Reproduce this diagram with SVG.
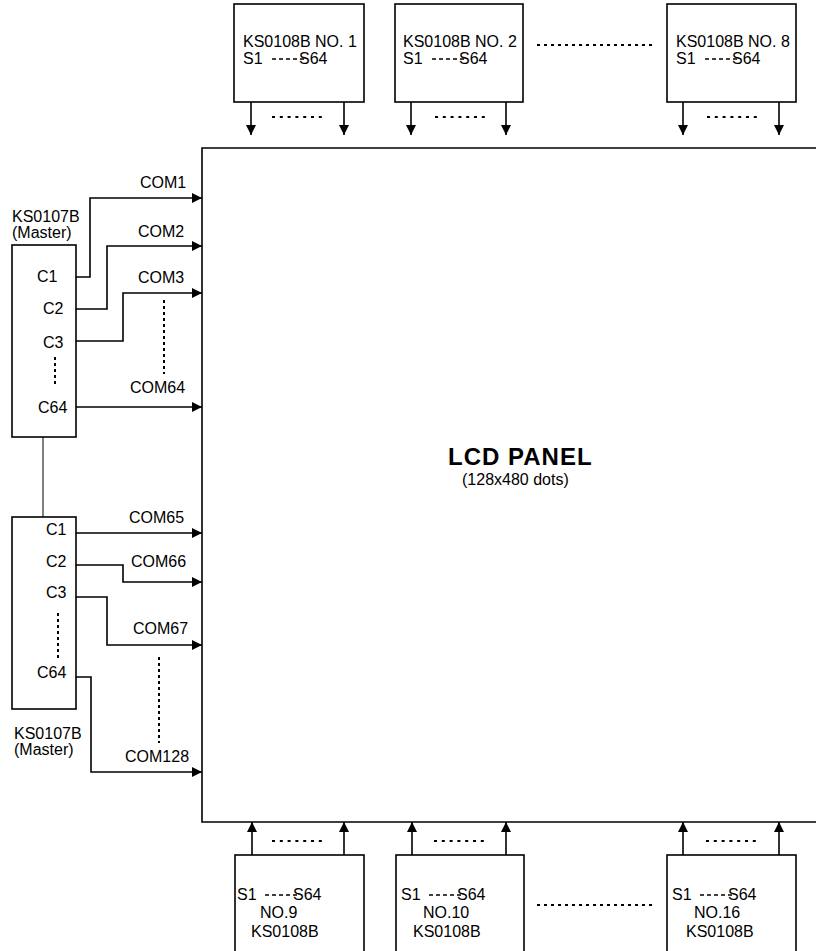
<svg xmlns="http://www.w3.org/2000/svg" width="816" height="951" viewBox="0 0 816 951">
<style>
text{font-family:"Liberation Sans",Arial,sans-serif;font-size:16px;fill:#000}
.box{fill:#fff;stroke:#000;stroke-width:1.6}
.w{fill:none;stroke:#000;stroke-width:1.6}
.thin{fill:none;stroke:#000;stroke-width:1}
.dot{fill:none;stroke:#000;stroke-width:2;stroke-dasharray:3 4.8}
.vdot{fill:none;stroke:#000;stroke-width:2;stroke-dasharray:3 3}
.sd{fill:none;stroke:#000;stroke-width:1.3;stroke-dasharray:4 3}
.title{font-weight:bold;font-size:24px;letter-spacing:1px}
</style>
<defs>
<marker id="ah" viewBox="0 0 10 10" refX="10" refY="5" markerWidth="10" markerHeight="11" markerUnits="userSpaceOnUse" orient="auto">
<path d="M0,0 L10,5 L0,10 z" fill="#000"/>
</marker>
</defs>

<g id="panel">
<path class="w" d="M816,148 H202 V822 H816" stroke-width="2"/>
<text class="title" x="448" y="465">LCD PANEL</text>
<text x="462" y="485">(128x480 dots)</text>
</g>

<g id="seg1">
<rect class="box" x="234" y="4" width="130" height="98"/>
<text x="243" y="47">KS0108B NO. 1</text>
<text x="243" y="64">S1</text>
<text x="299" y="64">S64</text>
<line class="sd" x1="272" y1="59" x2="306" y2="59"/>
</g>
<g id="seg2">
<rect class="box" x="395" y="4" width="128" height="98"/>
<text x="403" y="47">KS0108B NO. 2</text>
<text x="403" y="64">S1</text>
<text x="459" y="64">S64</text>
<line class="sd" x1="432" y1="59" x2="466" y2="59"/>
</g>
<g id="seg8">
<rect class="box" x="667" y="4" width="129" height="98"/>
<text x="676" y="47">KS0108B NO. 8</text>
<text x="676" y="64">S1</text>
<text x="732" y="64">S64</text>
<line class="sd" x1="705" y1="59" x2="739" y2="59"/>
</g>

<g id="seg9">
<rect class="box" x="235" y="855" width="129" height="110"/>
<text x="237" y="900">S1</text>
<text x="293" y="900">S64</text>
<line class="sd" x1="265" y1="895" x2="300" y2="895"/>
<text x="260" y="918">NO.9</text>
<text x="251" y="937">KS0108B</text>
</g>
<g id="seg10">
<rect class="box" x="396" y="855" width="128" height="110"/>
<text x="401" y="900">S1</text>
<text x="457" y="900">S64</text>
<line class="sd" x1="429" y1="895" x2="464" y2="895"/>
<text x="423" y="918">NO.10</text>
<text x="413" y="937">KS0108B</text>
</g>
<g id="seg16">
<rect class="box" x="667" y="855" width="129" height="110"/>
<text x="672" y="900">S1</text>
<text x="728" y="900">S64</text>
<line class="sd" x1="700" y1="895" x2="735" y2="895"/>
<text x="694" y="918">NO.16</text>
<text x="686" y="937">KS0108B</text>
</g>

<g id="com1">
<rect class="box" x="12" y="245" width="64" height="192"/>
<text x="12" y="222">KS0107B</text>
<text x="12" y="238">(Master)</text>
<text x="37" y="282">C1</text>
<text x="43" y="314">C2</text>
<text x="43" y="348">C3</text>
<text x="38" y="413">C64</text>
<line class="vdot" x1="55" y1="357" x2="55" y2="384"/>
</g>
<g id="com2">
<rect class="box" x="12" y="517" width="64" height="192"/>
<text x="14" y="739">KS0107B</text>
<text x="14" y="755">(Master)</text>
<text x="46" y="535">C1</text>
<text x="46" y="567">C2</text>
<text x="46" y="598">C3</text>
<text x="37" y="678">C64</text>
<line class="vdot" x1="58" y1="613" x2="58" y2="661"/>
</g>

<g id="connectors">
<line class="thin" x1="43" y1="437" x2="43" y2="517"/>
<line class="w" x1="251" y1="102" x2="251" y2="135" marker-end="url(#ah)"/>
<line class="w" x1="344" y1="102" x2="344" y2="135" marker-end="url(#ah)"/>
<line class="w" x1="411" y1="102" x2="411" y2="135" marker-end="url(#ah)"/>
<line class="w" x1="506" y1="102" x2="506" y2="135" marker-end="url(#ah)"/>
<line class="w" x1="683" y1="102" x2="683" y2="135" marker-end="url(#ah)"/>
<line class="w" x1="779" y1="102" x2="779" y2="135" marker-end="url(#ah)"/>
<line class="dot" x1="272" y1="117" x2="322" y2="117"/>
<line class="dot" x1="435" y1="117" x2="485" y2="117"/>
<line class="dot" x1="707" y1="117" x2="757" y2="117"/>
<line class="dot" x1="537" y1="45" x2="653" y2="45" style="stroke-dasharray:3 4"/>
<line class="w" x1="252" y1="855" x2="252" y2="822" marker-end="url(#ah)"/>
<line class="w" x1="344" y1="855" x2="344" y2="822" marker-end="url(#ah)"/>
<line class="w" x1="412" y1="855" x2="412" y2="822" marker-end="url(#ah)"/>
<line class="w" x1="506" y1="855" x2="506" y2="822" marker-end="url(#ah)"/>
<line class="w" x1="683" y1="855" x2="683" y2="822" marker-end="url(#ah)"/>
<line class="w" x1="779" y1="855" x2="779" y2="822" marker-end="url(#ah)"/>
<line class="dot" x1="272" y1="841" x2="322" y2="841"/>
<line class="dot" x1="434" y1="841" x2="484" y2="841"/>
<line class="dot" x1="706" y1="841" x2="756" y2="841"/>
<line class="dot" x1="537" y1="905" x2="653" y2="905" style="stroke-dasharray:3 4"/>
<path class="w" d="M76,277 H90 V198 H202" marker-end="url(#ah)"/>
<path class="w" d="M76,309 H107 V246 H202" marker-end="url(#ah)"/>
<path class="w" d="M76,341 H123 V293 H202" marker-end="url(#ah)"/>
<path class="w" d="M76,407 H202" marker-end="url(#ah)"/>
<line class="vdot" x1="164" y1="300" x2="164" y2="374"/>
<text x="140" y="188">COM1</text>
<text x="138" y="237">COM2</text>
<text x="138" y="283">COM3</text>
<text x="130" y="393">COM64</text>
<path class="w" d="M76,533 H202" marker-end="url(#ah)"/>
<path class="w" d="M76,565 H123 V582 H202" marker-end="url(#ah)"/>
<path class="w" d="M76,597 H107 V645 H202" marker-end="url(#ah)"/>
<path class="w" d="M76,677 H91 V772 H202" marker-end="url(#ah)"/>
<line class="vdot" x1="159" y1="657" x2="159" y2="743"/>
<text x="129" y="523">COM65</text>
<text x="131" y="567">COM66</text>
<text x="133" y="634">COM67</text>
<text x="125" y="762">COM128</text>
</g>
</svg>
